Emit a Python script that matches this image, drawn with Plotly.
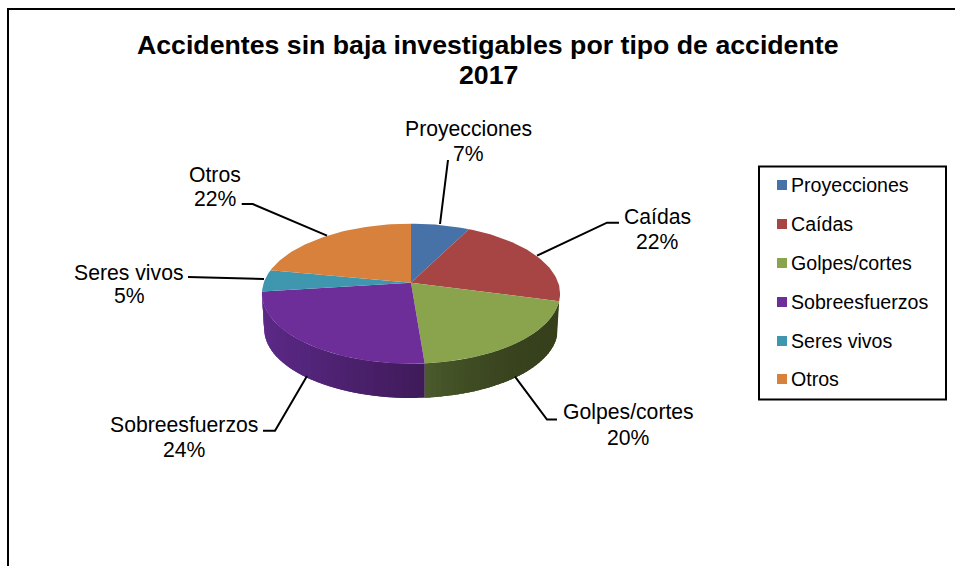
import math
import plotly.graph_objects as go

categories = ["Proyecciones", "Caídas", "Golpes/cortes", "Sobreesfuerzos", "Seres vivos", "Otros"]
values = [7.4, 21.8, 19.55, 24.25, 5.0, 22.0]
colors = ["#4672A8", "#A64543", "#8AA44E", "#6E2E9A", "#3F97AF", "#D8813C"]
title_lines = ["Accidentes sin baja investigables por tipo de accidente", "2017"]

FONT = "Liberation Sans, Arial, sans-serif"
W, H = 955, 566

# Projection of the tilted disc (pixel scale of the page)
CX, CY = 411.0, 282.7
A, B, K = 147.2, 68.3, 0.157
DEPTH, SHRINK = 35.5, 0.985


def project(theta_deg, lower=False):
    t = math.radians(theta_deg)
    x, y = math.sin(t), math.cos(t)
    w = 1 + K * y
    s = SHRINK if lower else 1.0
    return CX + s * A * x / w, CY + (DEPTH if lower else 0) - s * B * y / w


def mix(c1, c2, f):
    a = [int(c1[i:i + 2], 16) for i in (1, 3, 5)]
    b = [int(c2[i:i + 2], 16) for i in (1, 3, 5)]
    return "rgb(%d,%d,%d)" % tuple(round(p + (q - p) * f) for p, q in zip(a, b))


# cumulative angles
total = sum(values)
edges = [0.0]
for v in values:
    edges.append(edges[-1] + 360.0 * v / total)

fig = go.Figure()

# Side walls: (category index, colour at start angle, mid colour, colour at end angle)
wall_shades = {
    2: ("#3D4A20", "#36401C", "#4A5A2C"),
    3: ("#401B5A", "#54257C", "#5F2B8B"),
}
for idx, (c0, c1, c2) in wall_shades.items():
    a0, a1 = edges[idx], edges[idx + 1]
    n = 36
    for i in range(n):
        f = i / (n - 1)
        t0 = a0 + (a1 - a0) * i / n
        t1 = min(a0 + (a1 - a0) * (i + 1) / n + 2.5, a1)
        col = mix(c0, c1, f * 2) if f < 0.5 else mix(c1, c2, (f - 0.5) * 2)
        if idx == 2:  # green stays dark and brightens close to the front edge
            col = mix(c1, c2, f ** 3)
        steps = 4
        top = [project(t0 + (t1 - t0) * k / steps) for k in range(steps + 1)]
        bot = [project(t1 - (t1 - t0) * k / steps, True) for k in range(steps + 1)]
        pts = top + bot
        fig.add_trace(go.Scatter(
            x=[p[0] for p in pts], y=[p[1] for p in pts], mode="lines",
            fill="toself", fillcolor=col, line=dict(width=0),
            hoverinfo="skip", showlegend=False))

# Top face wedges
for name, v, col, a0, a1 in zip(categories, values, colors, edges[:-1], edges[1:]):
    n = max(int((a1 - a0) / 1.5), 2)
    arc = [project(a0 + (a1 - a0) * i / n) for i in range(n + 1)]
    xs = [CX] + [p[0] for p in arc] + [CX]
    ys = [CY] + [p[1] for p in arc] + [CY]
    fig.add_trace(go.Scatter(
        x=xs, y=ys, mode="lines", fill="toself", fillcolor=col,
        line=dict(width=0), name=name, showlegend=False,
        hovertemplate=f"{name}: {round(v)}%<extra></extra>"))

# Leader lines
leaders = [
    [(448, 160), (440, 224)],
    [(619, 222.7), (607, 222.7), (537, 255.7)],
    [(557, 419.5), (547, 419.5), (515, 376.7)],
    [(263, 430.7), (275, 430.7), (307, 376)],
    [(188, 277), (264, 279)],
    [(241.7, 204), (252.7, 204), (327, 235.7)],
]
for pts in leaders:
    fig.add_trace(go.Scatter(
        x=[p[0] for p in pts], y=[p[1] for p in pts], mode="lines",
        line=dict(color="#000000", width=2), hoverinfo="skip", showlegend=False))

annotations = []

# Title
for txt, ly in zip(title_lines, (45, 75)):
    annotations.append(dict(
        x=488, y=ly, xref="x", yref="y", text="<b>" + txt + "</b>", showarrow=False,
        xanchor="center", yanchor="middle",
        font=dict(family=FONT, size=26.7, color="#000000")))

# Data labels: name line and percent line positions
label_pos = [(468, 129, 153), (657, 216, 241), (628, 412, 437),
             (184, 424, 449), (129, 272, 295), (215, 174, 198)]
for name, v, (lx, y1, y2) in zip(categories, values, label_pos):
    for txt, ly in ((name, y1), (f"{round(v)}%", y2)):
        annotations.append(dict(
            x=lx, y=ly, xref="x", yref="y", text=txt, showarrow=False,
            xanchor="center", yanchor="middle",
            font=dict(family=FONT, size=21.2, color="#000000")))

# Legend
legend_rows = [185, 224, 263, 302, 341, 379]
fig.add_trace(go.Scatter(
    x=[782] * len(categories), y=legend_rows, mode="markers",
    marker=dict(symbol="square", size=10, color=colors, line=dict(width=0)),
    hoverinfo="skip", showlegend=False))
for name, ly in zip(categories, legend_rows):
    annotations.append(dict(
        x=791, y=ly, xref="x", yref="y", text=name, showarrow=False,
        xanchor="left", yanchor="middle", xshift=-2,
        font=dict(family=FONT, size=19.6, color="#000000")))

shapes = [
    dict(type="line", xref="x", yref="y", x0=8, x1=8, y0=8, y1=H, line=dict(color="#000", width=2)),
    dict(type="line", xref="x", yref="y", x0=7, x1=W, y0=9, y1=9, line=dict(color="#000", width=2)),
    dict(type="rect", xref="x", yref="y", x0=759, x1=946, y0=166.5, y1=399.5, line=dict(color="#000", width=2)),
]

fig.update_layout(
    width=W, height=H, margin=dict(l=0, r=0, t=0, b=0),
    paper_bgcolor="#FFFFFF", plot_bgcolor="#FFFFFF", showlegend=False,
    xaxis=dict(range=[0, W], visible=False, fixedrange=True),
    yaxis=dict(range=[H, 0], visible=False, fixedrange=True),
    annotations=annotations, shapes=shapes,
)
fig.write_html("out.html", config=dict(displayModeBar=False),
               post_script="document.body.style.margin='0';document.documentElement.style.overflow='hidden';")
